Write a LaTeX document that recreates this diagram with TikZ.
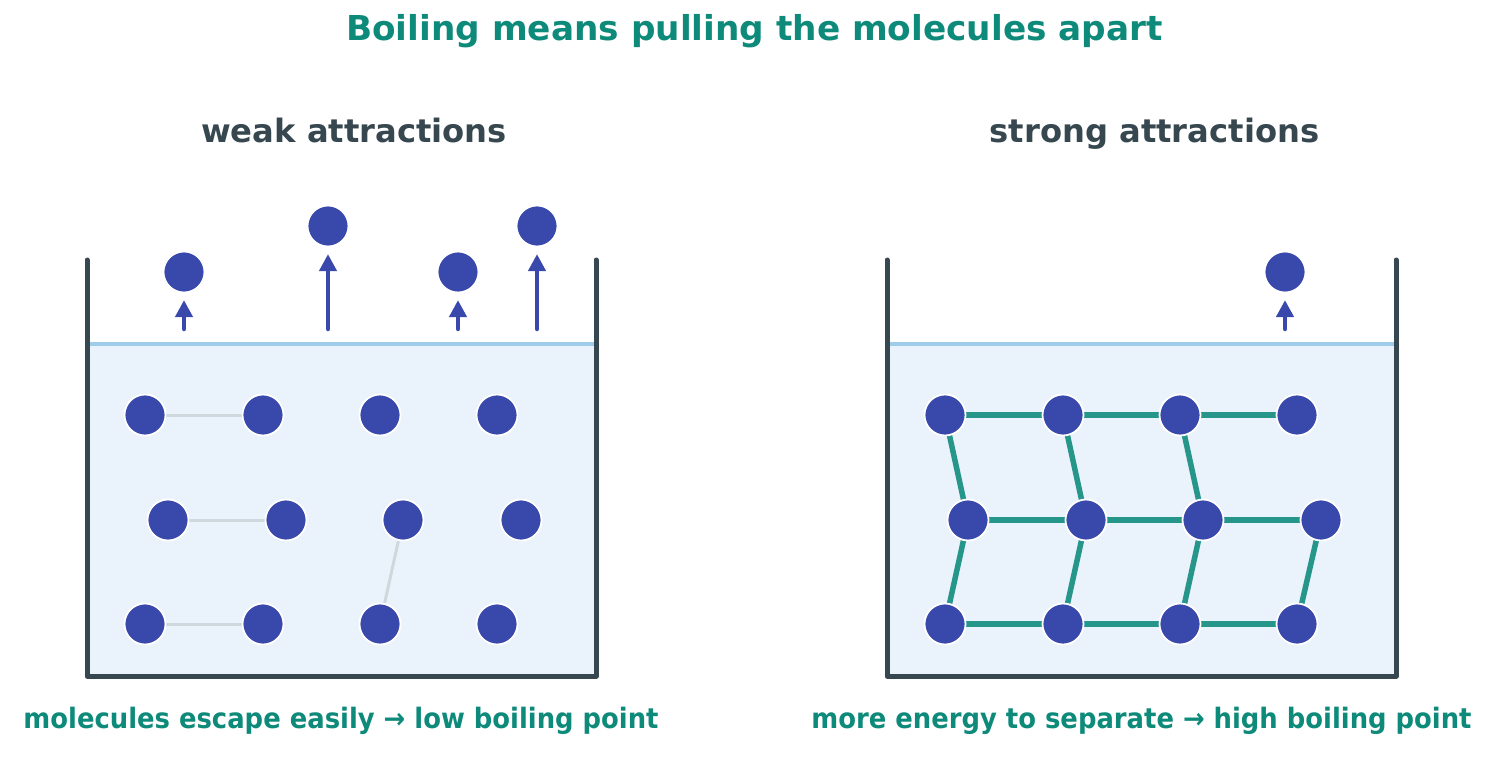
\documentclass[tikz,border=0pt]{standalone}
\usepackage{fontspec}
\setmainfont{DejaVu Sans}
\newfontfamily\capfont{DejaVu Sans}[FakeStretch=0.92]
\usetikzlibrary{arrows.meta}
\definecolor{ttlc}{HTML}{0E8A7A}
\definecolor{subc}{HTML}{37474F}
\definecolor{wallc}{HTML}{37474F}
\definecolor{molc}{HTML}{3949AB}
\definecolor{strongc}{HTML}{26958A}
\definecolor{weakc}{HTML}{CFD8DC}
\definecolor{liqc}{HTML}{EAF2FB}
\definecolor{surfc}{HTML}{A0CCEB}
\tikzset{
  mol/.style={circle,fill=molc,draw=white,line width=1.8pt,minimum size=41pt,inner sep=0pt},
  wall/.style={draw=wallc,line width=5pt,line cap=round,line join=round},
  surf/.style={draw=surfc,line width=3.5pt},
  strongbond/.style={draw=strongc,line width=5.5pt},
  weakbond/.style={draw=weakc,line width=3pt},
  escarrow/.style={draw=molc,line width=4.5pt,line cap=round,line join=round,shorten >=6.7pt},
  ttl/.style={text=ttlc,anchor=base,font=\fontsize{34.3}{40}\selectfont\bfseries},
  subttl/.style={text=subc,anchor=base,font=\fontsize{32.2}{38}\selectfont\bfseries},
  captxt/.style={text=ttlc,anchor=base,font=\capfont\fontsize{28.1}{34}\selectfont\bfseries}
}
\begin{document}
\begin{tikzpicture}[x=1pt,y=-1pt]
\useasboundingbox (0,0) rectangle (1508,757);
% titles
\node[ttl] (title) at (754.5,40.5) {Boiling means pulling the molecules apart};
\node[subttl] (subL) at (354,142.5) {weak attractions};
\node[subttl] (subR) at (1154.5,142.5) {strong attractions};
\node[captxt] (capL) at (341,728.5) {molecules escape easily → low boiling point};
\node[captxt] (capR) at (1141.5,728.5) {more energy to separate → high boiling point};
% liquids
\fill[liqc] (88,344) rectangle (596,676);
\fill[liqc] (888,344) rectangle (1396,676);
\draw[surf] (88,344) -- (596,344);
\draw[surf] (888,344) -- (1396,344);
\draw[wall] (87,260) -- (87,676) -- (596,676) -- (596,260);
\draw[wall] (887,260) -- (887,676) -- (1396,676) -- (1396,260);
% left coordinates
\foreach \c/\x in {1/145,2/263,3/380,4/497}{
  \coordinate (La\c) at (\x,415);
  \coordinate (Lc\c) at (\x,624);
  \coordinate (Ra\c) at (\x+800,415);
  \coordinate (Rc\c) at (\x+800,624);
}
\foreach \c/\x in {1/168,2/286,3/403,4/521}{
  \coordinate (Lb\c) at (\x,520);
  \coordinate (Rb\c) at (\x+800,520);
}
% weak bonds
\draw[weakbond] (La1) -- (La2);
\draw[weakbond] (Lb1) -- (Lb2);
\draw[weakbond] (Lc1) -- (Lc2);
\draw[weakbond] (Lb3) -- (Lc3);
% strong bonds
\draw[strongbond] (Ra1) -- (Ra2) -- (Ra3) -- (Ra4);
\draw[strongbond] (Rb1) -- (Rb2) -- (Rb3) -- (Rb4);
\draw[strongbond] (Rc1) -- (Rc2) -- (Rc3) -- (Rc4);
\draw[strongbond] (Ra1) -- (Rb1) -- (Rc1);
\draw[strongbond] (Ra2) -- (Rb2) -- (Rc2);
\draw[strongbond] (Ra3) -- (Rb3) -- (Rc3);
\draw[strongbond] (Rb4) -- (Rc4);
% molecules
\foreach \r in {a,b,c}{
  \foreach \c in {1,2,3,4}{
    \node[mol] (mL\r\c) at (L\r\c) {};
    \node[mol] (mR\r\c) at (R\r\c) {};
  }
}
% escaping molecules
\node[mol] (e1) at (184,272) {};
\node[mol] (e2) at (328,226) {};
\node[mol] (e3) at (458,272) {};
\node[mol] (e4) at (537,226) {};
\node[mol] (e5) at (1285,272) {};
\coordinate (s1) at (184,329);
\coordinate (s2) at (328,329);
\coordinate (s3) at (458,329);
\coordinate (s4) at (537,329);
\coordinate (s5) at (1285,329);
\draw[escarrow,-{Triangle[length=17pt,width=17pt]}] (s1) -- (e1.south);
\draw[escarrow,-{Triangle[length=17pt,width=17pt]}] (s2) -- (e2.south);
\draw[escarrow,-{Triangle[length=17pt,width=17pt]}] (s3) -- (e3.south);
\draw[escarrow,-{Triangle[length=17pt,width=17pt]}] (s4) -- (e4.south);
\draw[escarrow,-{Triangle[length=17pt,width=17pt]}] (s5) -- (e5.south);
\end{tikzpicture}
\end{document}
